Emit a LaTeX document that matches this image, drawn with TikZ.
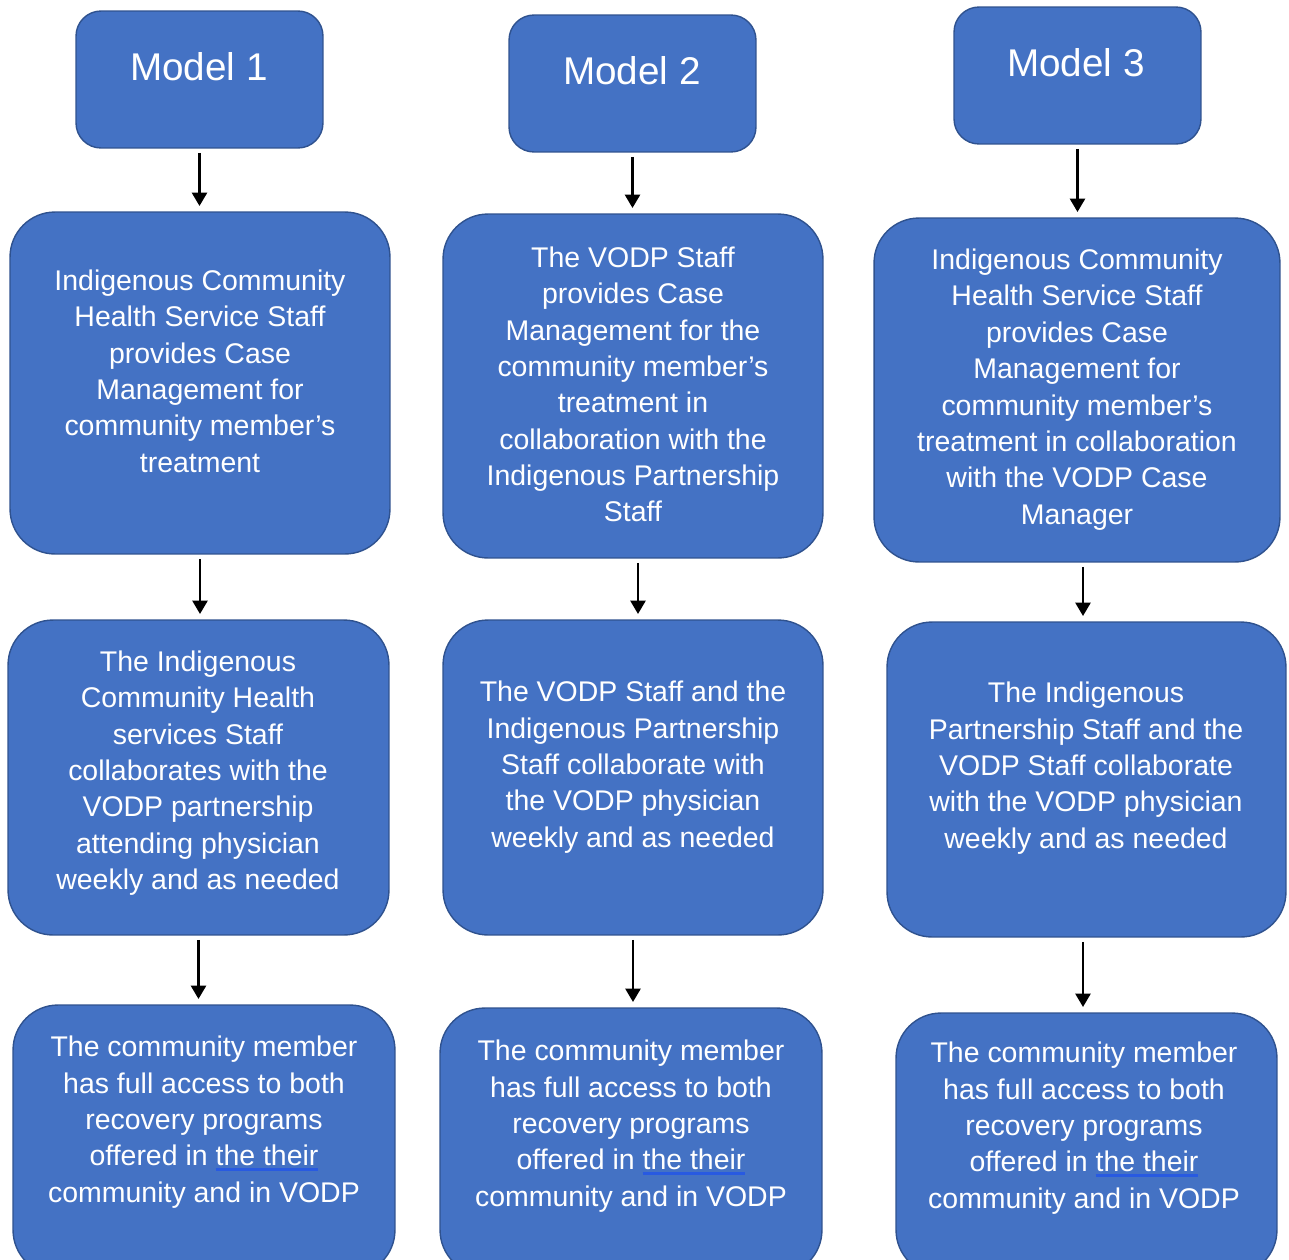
\documentclass[tikz,border=0pt]{standalone}
\usepackage{fontspec}
\setmainfont{Liberation Sans}
\usetikzlibrary{arrows.meta}
\definecolor{boxblue}{RGB}{68,114,196}
\definecolor{boxedge}{RGB}{47,82,143}
\definecolor{ulblue}{RGB}{40,90,225}
\newcommand{\blueul}[1]{\setbox0\hbox{#1}\rlap{\color{ulblue}\rule[-2.8pt]{\wd0}{1.4pt}}\box0}
\begin{document}
\begin{tikzpicture}[x=0.02cm,y=-0.02cm,
  box/.style={draw=boxedge, fill=boxblue, line width=0.8pt, inner sep=0pt, outer sep=0pt, rounded corners=0.9cm},
  model/.style={box, rounded corners=0.5cm, minimum width=4.94cm, minimum height=2.74cm},
  txt/.style={text=white, align=center, inner sep=0pt, font=\fontsize{16.2}{20.7}\selectfont},
  mtxt/.style={text=white, inner sep=0pt, font=\fontsize{22}{26}\selectfont},
  arr/.style={-{Triangle[width=0.3cm,length=0.27cm]}, line width=1.6pt, shorten <=0.1cm, shorten >=0.12cm}]
  \useasboundingbox (0,0) rectangle (1289,1259);
  \clip (0,0) rectangle (1289,1259);
  \node[model] (m1) at (199.5,79.5) {};
  \node[model] (m2) at (632.5,83.5) {};
  \node[model] (m3) at (1077.5,75.5) {};
  \node[mtxt] at (199,67) {Model 1};
  \node[mtxt] at (632,71) {Model 2};
  \node[mtxt] at (1076,63) {Model 3};

  \node[box, minimum width=7.6cm, minimum height=6.84cm] (a1) at (200,383) {};
  \node[box, minimum width=7.6cm, minimum height=6.88cm] (a2) at (633,386) {};
  \node[box, minimum width=8.12cm, minimum height=6.88cm] (a3) at (1077,390) {};
  \node[txt] at (200,371) {Indigenous Community\\Health Service Staff\\provides Case\\Management for\\community member’s\\treatment};
  \node[txt] at (633,384.5) {The VODP Staff\\provides Case\\Management for the\\community member’s\\treatment in\\collaboration with the\\Indigenous Partnership\\Staff};
  \node[txt] at (1077,389.5) {Indigenous Community\\Health Service Staff\\provides Case\\Management for\\community member’s\\treatment in collaboration\\with the VODP Case\\Manager};

  \node[box, minimum width=7.62cm, minimum height=6.3cm] (b1) at (198.5,777.5) {};
  \node[box, minimum width=7.6cm, minimum height=6.3cm] (b2) at (633,777.5) {};
  \node[box, minimum width=7.98cm, minimum height=6.3cm] (b3) at (1086.5,779.5) {};
  \node[txt] at (198,773) {The Indigenous\\Community Health\\services Staff\\collaborates with the\\VODP partnership\\attending physician\\weekly and as needed};
  \node[txt] at (633,767) {The VODP Staff and the\\Indigenous Partnership\\Staff collaborate with\\the VODP physician\\weekly and as needed};
  \node[txt] at (1086,768) {The Indigenous\\Partnership Staff and the\\VODP Staff collaborate\\with the VODP physician\\weekly and as needed};

  \node[box, minimum width=7.64cm, minimum height=5.4cm] (c1) at (204,1140) {};
  \node[box, minimum width=7.64cm, minimum height=5.34cm] (c2) at (631,1141.5) {};
  \node[box, minimum width=7.62cm, minimum height=5.24cm] (c3) at (1086.5,1144) {};
  \node[txt] at (204,1122) {The community member\\has full access to both\\recovery programs\\offered in \blueul{the their}\\community and in VODP};
  \node[txt] at (631,1126) {The community member\\has full access to both\\recovery programs\\offered in \blueul{the their}\\community and in VODP};
  \node[txt] at (1084,1128) {The community member\\has full access to both\\recovery programs\\offered in \blueul{the their}\\community and in VODP};

  \draw[arr] (m1.south) -- (m1.south |- a1.north);
  \draw[arr] (m2.south) -- (m2.south |- a2.north);
  \draw[arr] (m3.south) -- (m3.south |- a3.north);
  \draw[arr] (a1.south) -- (a1.south |- b1.north);
  \draw[arr] ([xshift=0.1cm]a2.south) -- ([xshift=0.1cm]a2.south |- b2.north);
  \draw[arr] ([xshift=0.12cm]a3.south) -- ([xshift=0.12cm]a3.south |- b3.north);
  \draw[arr] (b1.south) -- (b1.south |- c1.north);
  \draw[arr] (b2.south) -- (b2.south |- c2.north);
  \draw[arr] ([xshift=-0.07cm]b3.south) -- ([xshift=-0.07cm]b3.south |- c3.north);
\end{tikzpicture}
\end{document}
